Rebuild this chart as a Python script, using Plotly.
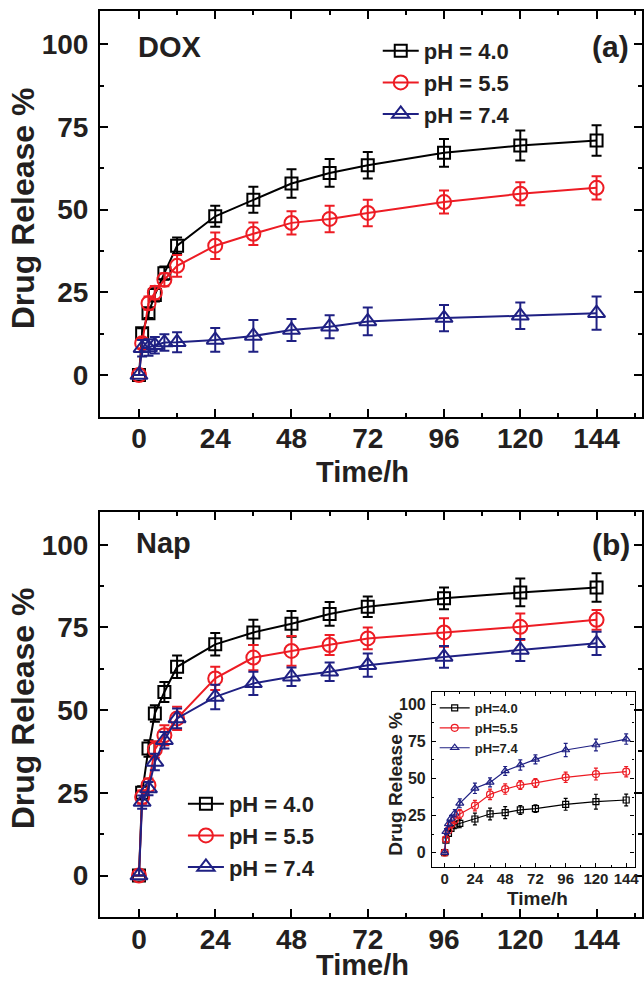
import plotly.graph_objects as go

# ---------------- data ----------------
time_h = [0, 1, 3, 5, 8, 12, 24, 36, 48, 60, 72, 96, 120, 144]
x_ticks = [0, 24, 48, 72, 96, 120, 144]
y_ticks = [0, 25, 50, 75, 100]
main_names = ["pH = 4.0", "pH = 5.5", "pH = 7.4"]
inset_names = ["pH=4.0", "pH=5.5", "pH=7.4"]

# (a) DOX
dox_ph40 = [0, 12.6, 18.7, 24.2, 30.8, 39.1, 48.0, 53.0, 57.9, 61.1, 63.4, 67.2, 69.4, 70.9]
dox_ph40_err = [0, 1.5, 1.5, 2.0, 2.0, 2.5, 3.2, 3.9, 4.3, 4.2, 4.0, 4.2, 4.5, 4.6]
dox_ph55 = [0, 9.6, 21.7, 24.9, 28.8, 33.0, 39.1, 42.7, 46.0, 47.2, 49.0, 52.3, 54.8, 56.6]
dox_ph55_err = [0, 1.5, 2.0, 2.0, 2.0, 3.3, 4.0, 3.4, 3.5, 4.0, 4.0, 3.5, 3.5, 3.5]
dox_ph74 = [0, 8.1, 8.3, 9.0, 9.8, 9.9, 10.6, 11.8, 13.6, 14.6, 16.2, 17.2, 17.9, 18.7]
dox_ph74_err = [0, 2.5, 2.5, 2.5, 2.5, 3.0, 3.6, 4.8, 3.3, 3.5, 4.2, 4.0, 4.0, 5.0]

# (b) Nap
nap_ph40 = [0, 25.0, 38.4, 49.0, 55.5, 63.1, 69.9, 73.5, 76.1, 79.1, 81.3, 83.8, 85.6, 87.1]
nap_ph40_err = [0, 2.0, 2.5, 2.5, 3.0, 3.4, 3.4, 3.8, 3.9, 3.6, 3.1, 3.3, 4.2, 4.3]
nap_ph55 = [0, 23.7, 27.3, 38.1, 42.4, 47.5, 59.6, 65.9, 67.9, 69.7, 71.7, 73.5, 75.2, 77.3]
nap_ph55_err = [0, 2.0, 2.0, 2.5, 3.0, 3.5, 3.5, 3.8, 4.5, 3.0, 3.3, 4.3, 4.0, 3.0]
nap_ph74 = [0, 22.2, 26.3, 34.3, 40.9, 47.5, 54.0, 58.1, 60.1, 61.6, 63.6, 66.1, 68.2, 70.2]
nap_ph74_err = [0, 2.0, 2.0, 2.5, 2.5, 3.0, 3.7, 3.5, 2.8, 2.8, 3.5, 3.3, 3.3, 3.5]

# inset
ins_ph40 = [0, 8.5, 13.0, 16.4, 18.7, 19.8, 22.7, 26.1, 27.0, 28.8, 29.7, 32.6, 34.4, 35.5]
ins_ph40_err = [0, 1.5, 2.0, 2.0, 2.5, 3.0, 4.0, 4.0, 4.0, 3.0, 2.5, 4.0, 5.0, 4.0]
ins_ph55 = [0, 9.0, 15.0, 19.0, 22.0, 26.1, 31.7, 39.3, 42.9, 45.6, 47.0, 50.8, 53.0, 54.6]
ins_ph55_err = [0, 1.5, 2.0, 2.0, 2.5, 3.0, 3.5, 3.5, 3.5, 3.0, 3.0, 3.5, 4.0, 3.5]
ins_ph74 = [0, 14.2, 19.4, 23.2, 26.6, 33.3, 43.4, 47.4, 55.1, 59.1, 62.9, 69.2, 72.6, 76.6]
ins_ph74_err = [0, 2.0, 2.0, 2.0, 2.5, 3.0, 3.5, 3.0, 3.0, 3.5, 3.0, 4.5, 4.0, 3.5]

# ---------------- style ----------------
W, H = 644, 982
ML, MR, MT, MB = 100, 1.5, 11, 65
PW = W - ML - MR
PH = H - MT - MB
FONT = "Liberation Sans, Arial, Helvetica, sans-serif"
TXT = "#231F20"
BLACK, RED, BLUE = "#000000", "#ED1C24", "#1F2083"
colors = [BLACK, RED, BLUE]
symbols = ["square-open", "circle-open", "triangle-up-open"]
main_sizes = [12, 14, 15]
inset_sizes = [6, 7, 7]


def px(xp):
    return (xp - ML) / PW


def py(yp):
    return (MT + PH - yp) / PH


fig = go.Figure()

panels = [
    ("x", "y", "legend", [dox_ph40, dox_ph55, dox_ph74], [dox_ph40_err, dox_ph55_err, dox_ph74_err], main_names, main_sizes, 2.0, 5, 2.0),
    ("x2", "y2", "legend2", [nap_ph40, nap_ph55, nap_ph74], [nap_ph40_err, nap_ph55_err, nap_ph74_err], main_names, main_sizes, 2.0, 5, 2.0),
    ("x3", "y3", "legend3", [ins_ph40, ins_ph55, ins_ph74], [ins_ph40_err, ins_ph55_err, ins_ph74_err], inset_names, inset_sizes, 1.2, 2, 1.2),
]
for xa, ya, lg, ys, errs, names, sizes, lw, ew, mlw in panels:
    for i in range(3):
        fig.add_trace(go.Scatter(
            x=time_h, y=ys[i], xaxis=xa, yaxis=ya, legend=lg, name=names[i],
            mode="lines+markers",
            line=dict(color=colors[i], width=lw),
            marker=dict(symbol=symbols[i], size=sizes[i], color=colors[i],
                        line=dict(color=colors[i], width=mlw)),
            error_y=dict(type="data", array=errs[i], visible=True,
                         color=colors[i], thickness=lw, width=ew),
            cliponaxis=False,
        ))

main_ax = dict(showline=True, linecolor="black", linewidth=2, mirror="allticks",
               ticks="inside", ticklen=8, tickwidth=2, tickcolor="black",
               showgrid=False, zeroline=False,
               tickfont=dict(family=FONT, size=28, color=TXT, weight="bold"))
xr = [-12.26, 158.3]
yr = [-12.55, 110.07]
minor_x = dict(dtick=12, tick0=0, ticks="inside", ticklen=4, tickwidth=1.5, tickcolor="black")
minor_y = dict(dtick=12.5, tick0=0, ticks="inside", ticklen=4, tickwidth=1.5, tickcolor="black")

fig.update_layout(
    width=W, height=H,
    margin=dict(l=ML, r=MR, t=MT, b=MB, autoexpand=False),
    paper_bgcolor="white", plot_bgcolor="rgba(0,0,0,0)",
    xaxis=dict(main_ax, domain=[0, 1], range=xr, tickvals=x_ticks, anchor="y",
               minor=minor_x, ticklabelstandoff=-4, tickangle=0),
    yaxis=dict(main_ax, domain=[py(416.5), 1], range=yr, tickvals=y_ticks, anchor="x",
               minor=minor_y, ticklabelstandoff=4),
    xaxis2=dict(main_ax, domain=[0, 1], range=xr, tickvals=x_ticks, anchor="y2",
                minor=minor_x, ticklabelstandoff=-4, tickangle=0),
    yaxis2=dict(main_ax, domain=[0, py(511.5)], range=yr, tickvals=y_ticks, anchor="x2",
                minor=minor_y, ticklabelstandoff=4),
    xaxis3=dict(showline=True, linecolor="black", linewidth=1.2, mirror="allticks",
                ticks="inside", ticklen=4, tickwidth=1.2, tickcolor="black",
                showgrid=False, zeroline=False, domain=[px(432.3), px(635)],
                range=[-10.06, 150.6], tickvals=x_ticks, anchor="y3", tickangle=0,
                minor=dict(dtick=12, tick0=0, ticks="inside", ticklen=2, tickwidth=1, tickcolor="black"),
                tickfont=dict(family=FONT, size=15, color=TXT, weight="bold"),
                ticklabelstandoff=-2),
    yaxis3=dict(showline=True, linecolor="black", linewidth=1.2, mirror="allticks",
                ticks="inside", ticklen=4, tickwidth=1.2, tickcolor="black",
                showgrid=False, zeroline=False, domain=[py(867.3), py(692.3)],
                range=[-9.84, 108.1], tickvals=y_ticks, anchor="x3",
                minor=dict(dtick=12.5, tick0=0, ticks="inside", ticklen=2, tickwidth=1, tickcolor="black"),
                tickfont=dict(family=FONT, size=16, color=TXT, weight="bold"),
                ticklabelstandoff=2),
    legend=dict(x=px(378), y=py(30), xanchor="left", yanchor="top",
                bgcolor="rgba(0,0,0,0)", borderwidth=0, itemwidth=36,
                font=dict(family=FONT, size=22, color=TXT, weight="bold"),
                tracegroupgap=0),
    legend2=dict(x=px(183), y=py(783), xanchor="left", yanchor="top",
                 bgcolor="rgba(0,0,0,0)", borderwidth=0, itemwidth=36,
                 font=dict(family=FONT, size=22, color=TXT, weight="bold"),
                 tracegroupgap=0),
    legend3=dict(x=px(435), y=py(693), xanchor="left", yanchor="top",
                 bgcolor="rgba(0,0,0,0)", borderwidth=0,
                 font=dict(family=FONT, size=13, color=TXT, weight="bold"),
                 tracegroupgap=0),
    showlegend=True,
)

ann_font = lambda s: dict(family=FONT, size=s, color=TXT, weight="bold")
annotations = [
    dict(x=px(170.5), y=py(46.7), text="DOX", size=29, angle=0),
    dict(x=px(610.5), y=py(46.7), text="(a)", size=30, angle=0),
    dict(x=px(163.5), y=py(543), text="Nap", size=29, angle=0),
    dict(x=px(611), y=py(544), text="(b)", size=30, angle=0),
    dict(x=px(23.3), y=py(208), text="Drug Release %", size=32, angle=-90),
    dict(x=px(23.3), y=py(708), text="Drug Release %", size=32, angle=-90),
    dict(x=px(363), y=py(472), text="Time/h", size=29, angle=0),
    dict(x=px(363), y=py(965), text="Time/h", size=29, angle=0),
    dict(x=px(395), y=py(784), text="Drug Release %", size=19, angle=-90),
    dict(x=px(538), y=py(898), text="Time/h", size=19, angle=0),
]
for a in annotations:
    fig.add_annotation(x=a["x"], y=a["y"], xref="paper", yref="paper", text=a["text"],
                       showarrow=False, textangle=a["angle"], font=ann_font(a["size"]),
                       xanchor="center", yanchor="middle")

fig.write_html("out.html")
